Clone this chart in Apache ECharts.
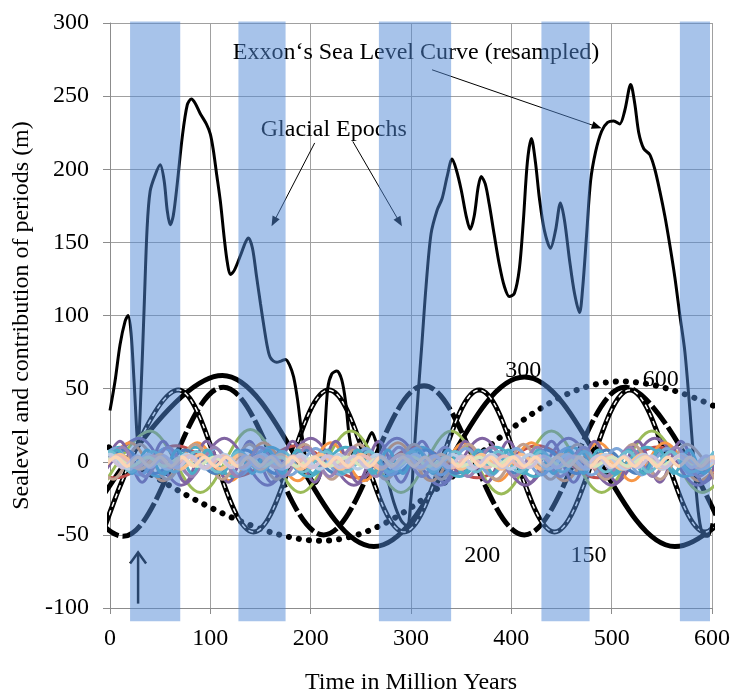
<!DOCTYPE html>
<html>
<head>
<meta charset="utf-8">
<title>Sealevel and contribution of periods</title>
<script src="https://cdn.jsdelivr.net/npm/echarts@6/dist/echarts.min.js"></script>
<style>
html, body { margin: 0; padding: 0; background: #fff; }
#main { width: 730px; height: 694px; }
</style>
</head>
<body>
<div id="main"></div>
<script>
// glacial epochs [start, end] in My
var bands = [[20, 70], [128, 175], [268, 340], [430, 478], [568, 598]];

// Exxon sea level curve (resampled)
var exxon = [
  [0, 35], [5, 55], [10, 80], [15, 96], [18, 100], [21, 88], [24, 55], [28, 12], [31, 50], [34, 105],
  [37, 160], [40, 185], [45, 196], [50, 203], [54, 192], [57, 172], [60, 162], [63, 168], [67, 190], [72, 222],
  [77, 244], [81, 248], [85, 245], [90, 238], [96, 231], [100, 224], [103, 213], [106, 198], [110, 178], [114, 152],
  [117, 136], [120, 128], [124, 131], [130, 141], [135, 150], [138, 153], [142, 146], [146, 127], [150, 108], [154, 90],
  [157, 78], [160, 71], [166, 68], [171, 69], [175, 70], [179, 66], [183, 58], [187, 42], [191, 20], [195, 3],
  [200, -10], [205, -15], [209, -10], [213, 10], [217, 50], [221, 60], [226, 62], [231, 56], [235, 40], [238, 20],
  [242, 5], [247, 0], [252, 6], [257, 15], [261, 20], [265, 14], [270, 5], [276, -10], [283, -28], [290, -40],
  [296, -44], [300, -25], [303, 5], [307, 45], [311, 82], [315, 120], [320, 156], [326, 172], [331, 180], [336, 195],
  [341, 207], [345, 200], [350, 186], [355, 168], [359, 159], [363, 168], [367, 188], [370, 195], [374, 190], [378, 176],
  [383, 155], [388, 135], [393, 120], [398, 113], [403, 115], [408, 132], [412, 165], [416, 205], [420, 221], [424, 205],
  [428, 180], [433, 158], [439, 146], [444, 158], [449, 177], [453, 165], [458, 138], [463, 115], [468, 102], [471, 118],
  [475, 155], [479, 192], [484, 212], [490, 226], [496, 232], [502, 233], [508, 231], [513, 240], [519, 258], [523, 245],
  [527, 225], [532, 214], [538, 210], [543, 200], [548, 185], [553, 168], [558, 148], [563, 126], [568, 100], [573, 75],
  [578, 35], [583, -10], [587, -38], [591, -50], [596, -51], [600, -42]
];

// main periods: turning points (My, m)
var p600 = [[-90, 55], [210, -54], [510, 55], [810, -54]];
var p300 = [[-38, -58], [112, 59], [263, -58], [413, 58], [563, -58], [713, 58]];
var p200 = [[-87, 50], [13, -51], [113, 51], [213, -50], [313, 52], [413, -50], [513, 51], [613, -50]];
var p150 = [[-7, -48], [68, 49], [143, -48], [218, 49], [293, -48], [368, 49], [443, -48], [518, 49], [593, -48], [668, 49]];

// shorter periods: turning points
var c120 = [[-54, 11], [6, -11], [66, 11], [126, -10], [186, 11], [246, -11], [306, 10], [366, -11], [426, 11], [486, -11], [546, 10], [606, -11]];
var c100 = [[-10, -21], [40, 21], [90, -21], [140, 22], [190, -21], [240, 21], [290, -21], [340, 21], [390, -22], [440, 21], [490, -21], [540, 21], [590, -21], [640, 21]];
var c86 = [[-14, -16], [29, 16], [71, -16], [114, 16], [157, -16], [200, 16], [243, -16], [286, 16], [329, -16], [371, 16], [414, -16], [457, 16], [500, -16], [543, 16], [586, -16], [629, 16]];
var c75 = [[-28, -10], [10, 10], [48, -10], [85, 10], [123, -10], [160, 10], [198, -10], [235, 10], [273, -10], [310, 10], [348, -10], [385, 10], [423, -10], [460, 10], [498, -10], [535, 10], [573, -10], [610, 10]];
var c67 = [[-13, -13], [20, 13], [53, -13], [87, 13], [120, -13], [153, 13], [187, -13], [220, 13], [253, -13], [287, 13], [320, -13], [353, 13], [387, -13], [420, 13], [453, -13], [487, 13], [520, -13], [553, 13], [587, -13], [620, 13]];
var c60 = [[-15, -8], [15, 8], [45, -8], [75, 8], [105, -8], [135, 8], [165, -8], [195, 8], [225, -8], [255, 8], [285, -8], [315, 8], [345, -8], [375, 8], [405, -8], [435, 8], [465, -8], [495, 8], [525, -8], [555, 8], [585, -8], [615, 8]];
var c55 = [[-24, 12], [3, -12], [30, 12], [57, -12], [85, 12], [112, -12], [139, 12], [166, -12], [194, 12], [221, -12], [248, 12], [275, -12], [303, 12], [330, -12], [357, 12], [385, -12], [412, 12], [439, -12], [466, 12], [494, -12], [521, 12], [548, -12], [575, 12], [603, -12]];
var c50 = [[-20, -9], [5, 9], [30, -9], [55, 9], [80, -9], [105, 9], [130, -9], [155, 9], [180, -9], [205, 9], [230, -9], [255, 9], [280, -9], [305, 9], [330, -9], [355, 9], [380, -9], [405, 9], [430, -9], [455, 9], [480, -9], [505, 9], [530, -9], [555, 9], [580, -9], [605, 9]];
var c46 = [[-11, -10], [12, 10], [35, -10], [58, 10], [81, -10], [104, 10], [127, -10], [150, 10], [173, -10], [196, 10], [219, -10], [242, 10], [265, -10], [288, 10], [311, -10], [334, 10], [357, -10], [380, 10], [403, -10], [426, 10], [449, -10], [472, 10], [495, -10], [518, 10], [541, -10], [564, 10], [587, -10], [610, 10]];
var c43 = [[-21, -7], [0, 7], [21, -7], [43, 7], [64, -7], [86, 7], [107, -7], [129, 7], [150, -7], [172, 7], [193, -7], [215, 7], [236, -7], [258, 7], [279, -7], [301, 7], [322, -7], [344, 7], [365, -7], [387, 7], [408, -7], [430, 7], [451, -7], [473, 7], [494, -7], [516, 7], [537, -7], [559, 7], [580, -7], [602, 7]];
var c43b = [[-11, -14], [10, 14], [32, -14], [53, 14], [75, -14], [96, 14], [118, -14], [139, 14], [161, -14], [182, 14], [204, -14], [225, 14], [247, -14], [268, 14], [290, -14], [311, 14], [333, -14], [354, 14], [376, -14], [397, 14], [419, -14], [440, 14], [462, -14], [483, 14], [505, -14], [526, 14], [548, -14], [569, 14], [591, -14], [612, 14]];
var c40 = [[-10, -5], [10, 5], [30, -5], [50, 5], [70, -5], [90, 5], [110, -5], [130, 5], [150, -5], [170, 5], [190, -5], [210, 5], [230, -5], [250, 5], [270, -5], [290, 5], [310, -5], [330, 5], [350, -5], [370, 5], [390, -5], [410, 5], [430, -5], [450, 5], [470, -5], [490, 5], [510, -5], [530, 5], [550, -5], [570, 5], [590, -5], [610, 5]];
var c38 = [[-19, -5], [0, 5], [19, -5], [38, 5], [57, -5], [76, 5], [95, -5], [114, 5], [133, -5], [152, 5], [171, -5], [190, 5], [209, -5], [228, 5], [247, -5], [266, 5], [285, -5], [304, 5], [323, -5], [342, 5], [361, -5], [380, 5], [399, -5], [418, 5], [437, -5], [456, 5], [475, -5], [494, 5], [513, -5], [532, 5], [551, -5], [570, 5], [589, -5], [608, 5]];
var c35 = [[-9, -4], [8, 4], [26, -4], [43, 4], [61, -4], [78, 4], [96, -4], [113, 4], [131, -4], [148, 4], [166, -4], [183, 4], [201, -4], [218, 4], [236, -4], [253, 4], [271, -4], [288, 4], [306, -4], [323, 4], [341, -4], [358, 4], [376, -4], [393, 4], [411, -4], [428, 4], [446, -4], [463, 4], [481, -4], [498, 4], [516, -4], [533, 4], [551, -4], [568, 4], [586, -4], [603, 4]];
var c33 = [[-12, -3], [5, 3], [21, -3], [38, 3], [54, -3], [71, 3], [87, -3], [104, 3], [120, -3], [137, 3], [153, -3], [170, 3], [186, -3], [203, 3], [219, -3], [236, 3], [252, -3], [269, 3], [285, -3], [302, 3], [318, -3], [335, 3], [351, -3], [368, 3], [384, -3], [401, 3], [417, -3], [434, 3], [450, -3], [467, 3], [483, -3], [500, 3], [516, -3], [533, 3], [549, -3], [566, 3], [582, -3], [599, 3], [615, -3]];
var c30 = [[-8, -8], [7, 8], [22, -8], [37, 8], [52, -8], [67, 8], [82, -8], [97, 8], [112, -8], [127, 8], [142, -8], [157, 8], [172, -8], [187, 8], [202, -8], [217, 8], [232, -8], [247, 8], [262, -8], [277, 8], [292, -8], [307, 8], [322, -8], [337, 8], [352, -8], [367, 8], [382, -8], [397, 8], [412, -8], [427, 8], [442, -8], [457, 8], [472, -8], [487, 8], [502, -8], [517, 8], [532, -8], [547, 8], [562, -8], [577, 8], [592, -8], [607, 8]];
var c27 = [[0, 4], [13, -4], [27, 4], [40, -4], [54, 4], [67, -4], [81, 4], [94, -4], [108, 4], [121, -4], [135, 4], [148, -4], [162, 4], [175, -4], [189, 4], [202, -4], [216, 4], [229, -4], [243, 4], [256, -4], [270, 4], [283, -4], [297, 4], [310, -4], [324, 4], [337, -4], [351, 4], [364, -4], [378, 4], [391, -4], [405, 4], [418, -4], [432, 4], [445, -4], [459, 4], [472, -4], [486, 4], [499, -4], [513, 4], [526, -4], [540, 4], [553, -4], [567, 4], [580, -4], [594, 4], [607, -4]];
var c22 = [[-5, -3], [6, 3], [17, -3], [28, 3], [39, -3], [50, 3], [61, -3], [72, 3], [83, -3], [94, 3], [105, -3], [116, 3], [127, -3], [138, 3], [149, -3], [160, 3], [171, -3], [182, 3], [193, -3], [204, 3], [215, -3], [226, 3], [237, -3], [248, 3], [259, -3], [270, 3], [281, -3], [292, 3], [303, -3], [314, 3], [325, -3], [336, 3], [347, -3], [358, 3], [369, -3], [380, 3], [391, -3], [402, 3], [413, -3], [424, 3], [435, -3], [446, 3], [457, -3], [468, 3], [479, -3], [490, 3], [501, -3], [512, 3], [523, -3], [534, 3], [545, -3], [556, 3], [567, -3], [578, 3], [589, -3], [600, 3], [611, -3]];

var small = [
  { data: c120, color: '#C0504D', width: 3 },
  { data: c100, color: '#9BBB59', width: 3 },
  { data: c86, color: '#8064A2', width: 3 },
  { data: c67, color: '#F79646', width: 3 },
  { data: c43b, color: '#8064A2', width: 3 },
  { data: c75, color: '#4BACC6', width: 3 },
  { data: c55, color: '#BF9F8F', width: 3 },
  { data: c60, color: '#4F81BD', width: 3 },
  { data: c50, color: '#7EA6D8', width: 3 },
  { data: c46, color: '#9983B5', width: 3 },
  { data: c30, color: '#4BACC6', width: 3 },
  { data: c43, color: '#6FBDD1', width: 3 },
  { data: c40, color: '#FAC090', width: 3.5 },
  { data: c38, color: '#B9CDE5', width: 3.5 },
  { data: c35, color: '#E6B9B8', width: 3.5 },
  { data: c33, color: '#D7E4BD', width: 3.5 },
  { data: c27, color: '#CCC1DA', width: 3.5 },
  { data: c22, color: '#FCD5B5', width: 3.5 }
];

// texts and pointers, in data coordinates
var notes = [
  { text: 'Exxon\u2018s Sea Level Curve (resampled)', x: 305, y: 280 },
  { text: 'Glacial Epochs', x: 223, y: 227 },
  { text: '300', x: 412, y: 62 },
  { text: '600', x: 549, y: 56 },
  { text: '200', x: 371, y: -64 },
  { text: '150', x: 477, y: -64 }
];
var pointers = [
  [[321, 268], [490, 228]],
  [[204, 218], [161, 161]],
  [[242, 219], [291, 161]]
];
var bigArrow = [[28, -97], [28, -62]];

var serif = 'Liberation Serif';
var bandColor = 'rgba(80,136,214,0.5)';

var series = [];
function curve(data, style, smooth) {
  series.push({
    type: 'line', data: data, smooth: smooth, showSymbol: false, symbol: 'none',
    silent: true, lineStyle: style
  });
}
curve(p600, { color: '#000', width: 6, type: [0.1, 10], cap: 'round' }, 0.36);
curve(p300, { color: '#000', width: 5 }, 0.36);
curve(p200, { color: '#000', width: 5, type: [22, 4] }, 0.36);
curve(p150, { color: '#000', width: 5 }, 0.36);
curve(p150, { color: '#fff', width: 1.5, type: [5, 4] }, 0.36);
curve(exxon, { color: '#000', width: 3 }, 0.3);
small.forEach(function (s) {
  curve(s.data, { color: s.color, width: s.width }, 0.36);
});
series.push({
  type: 'custom', z: 5, silent: true, data: bands,
  renderItem: function (params, api) {
    var a = api.coord([api.value(0), 301]);
    var b = api.coord([api.value(1), -109]);
    return {
      type: 'rect',
      shape: { x: a[0], y: a[1], width: b[0] - a[0], height: b[1] - a[1] },
      style: { fill: bandColor }
    };
  }
});

var axisGray = '#8c8c8c';
var option = {
  animation: false,
  backgroundColor: '#fff',
  grid: { left: 110, right: 18, top: 23, bottom: 86, outerBoundsMode: 'none', containLabel: false },
  xAxis: {
    type: 'value', min: 0, max: 600, interval: 100,
    name: 'Time in Million Years', nameLocation: 'middle', nameGap: 63,
    nameTextStyle: { color: '#000', fontFamily: serif, fontSize: 24 },
    axisLine: { onZero: false, lineStyle: { color: axisGray } },
    axisTick: { show: true, length: 6, lineStyle: { color: axisGray } },
    axisLabel: { color: '#000', fontFamily: serif, fontSize: 24, margin: 19 },
    splitLine: { show: true, lineStyle: { color: '#a0a0a0' } }
  },
  yAxis: {
    type: 'value', min: -100, max: 300, interval: 50,
    name: 'Sealevel and contribution of periods (m)', nameLocation: 'middle', nameGap: 76,
    nameTextStyle: { color: '#000', fontFamily: serif, fontSize: 24 },
    axisLine: { show: true, lineStyle: { color: axisGray } },
    axisTick: { show: true, length: 7, lineStyle: { color: axisGray } },
    axisLabel: { color: '#000', fontFamily: serif, fontSize: 24, margin: 21 },
    splitLine: { show: true, lineStyle: { color: '#a0a0a0' } }
  },
  series: series
};

var chart = echarts.init(document.getElementById('main'));
chart.setOption(option);

function toPx(p) {
  return chart.convertToPixel({ xAxisIndex: 0, yAxisIndex: 0 }, p);
}
function head(a, b, len, half) {
  var dx = b[0] - a[0], dy = b[1] - a[1];
  var d = Math.sqrt(dx * dx + dy * dy);
  var ux = dx / d, uy = dy / d;
  var bx = b[0] - ux * len, by = b[1] - uy * len;
  return [[b[0], b[1]], [bx - uy * half, by + ux * half], [bx + uy * half, by - ux * half]];
}

var elements = [];
notes.forEach(function (n) {
  var p = toPx([n.x, n.y]);
  elements.push({
    type: 'text', z: 1, silent: true,
    style: { text: n.text, x: p[0], y: p[1], fill: '#000', font: '24px "' + serif + '"', align: 'center', verticalAlign: 'middle' }
  });
});
pointers.forEach(function (pt) {
  var a = toPx(pt[0]), b = toPx(pt[1]);
  var h = head(a, b, 10, 4);
  var d = Math.sqrt(Math.pow(b[0] - a[0], 2) + Math.pow(b[1] - a[1], 2));
  var c = [b[0] - (b[0] - a[0]) * 8 / d, b[1] - (b[1] - a[1]) * 8 / d];
  elements.push({ type: 'line', z: 1, silent: true, shape: { x1: a[0], y1: a[1], x2: c[0], y2: c[1] }, style: { stroke: '#000', lineWidth: 1 } });
  elements.push({ type: 'polygon', z: 1, silent: true, shape: { points: h }, style: { fill: '#000' } });
});
(function () {
  var a = toPx(bigArrow[0]), b = toPx(bigArrow[1]);
  elements.push({ type: 'line', z: 1, silent: true, shape: { x1: a[0], y1: a[1], x2: b[0], y2: b[1] + 1 }, style: { stroke: '#000', lineWidth: 2.5 } });
  elements.push({
    type: 'polyline', z: 1, silent: true,
    shape: { points: [[b[0] - 8, b[1] + 11], [b[0], b[1]], [b[0] + 8, b[1] + 11]] },
    style: { stroke: '#000', lineWidth: 2.5, lineJoin: 'miter', fill: null }
  });
})();
chart.setOption({ graphic: { elements: elements } });
</script>
</body>
</html>
